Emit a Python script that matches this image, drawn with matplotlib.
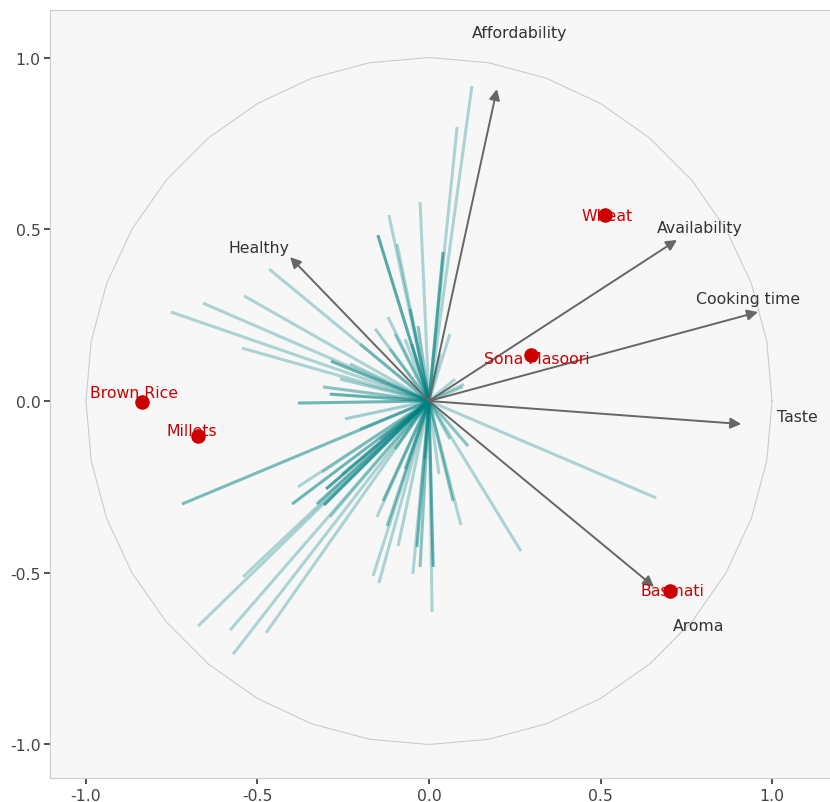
import numpy as np
import matplotlib
matplotlib.use("Agg")
import matplotlib.pyplot as plt

# loadings of the individual responses (end points of the teal rays)
resp_x = [-0.752, -0.659, -0.539, -0.466, -0.545, -0.309, -0.382, -0.289, -0.286, -0.120,
          -0.149, -0.117, -0.026, -0.093, 0.125, 0.082, 0.041, 0.061, -0.055, -0.032,
          0.102, 0.662, 0.268, 0.093, 0.114, 0.009, 0.012, -0.047, -0.026, 0.070,
          -0.035, 0.029, -0.720, -0.673, -0.571, -0.580, -0.475, -0.542, -0.399, -0.382,
          -0.300, -0.327, -0.306, -0.163, -0.146, -0.152, -0.090, -0.122, -0.134, -0.312,
          -0.254, -0.114, -0.070, 0.099, -0.289,
          -0.201, -0.157, -0.099, -0.050, -0.230, -0.259, 0.032, 0.076, -0.099, -0.070,
          -0.143, -0.201, 0.061, -0.012, -0.245]
resp_y = [0.259, 0.285, 0.306, 0.384, 0.154, 0.041, -0.006, 0.020, 0.116, 0.245,
          0.483, 0.541, 0.579, 0.457, 0.917, 0.798, 0.434, 0.195, 0.268, 0.218,
          0.049, -0.282, -0.437, -0.361, -0.131, -0.614, -0.483, -0.504, -0.483, -0.291,
          -0.425, -0.213, -0.300, -0.655, -0.737, -0.667, -0.675, -0.512, -0.300, -0.250,
          -0.256, -0.300, -0.303, -0.509, -0.530, -0.338, -0.422, -0.364, -0.291, -0.207,
          -0.213, 0.151, 0.180, 0.041, -0.338,
          0.166, 0.210, 0.195, 0.166, 0.108, 0.064, 0.137, 0.064, -0.140, -0.198,
          -0.111, -0.082, -0.111, -0.169, -0.052]
resp_alpha = [0.3, 0.3, 0.3, 0.3, 0.3, 0.45, 0.55, 0.6, 0.55, 0.3,
              0.65, 0.3, 0.3, 0.3, 0.3, 0.3, 0.6, 0.3, 0.45, 0.45,
              0.3, 0.3, 0.3, 0.3, 0.45, 0.3, 0.6, 0.3, 0.45, 0.45,
              0.5, 0.3, 0.5, 0.3, 0.3, 0.3, 0.3, 0.3, 0.55, 0.3,
              0.7, 0.55, 0.65, 0.3, 0.3, 0.3, 0.3, 0.45, 0.45, 0.3,
              0.3, 0.3, 0.3, 0.3, 0.3,
              0.35, 0.35, 0.35, 0.4, 0.35, 0.35, 0.35, 0.3, 0.4, 0.4,
              0.4, 0.35, 0.35, 0.4, 0.35]

# variable arrows
var_names = ["Affordability", "Healthy", "Availability", "Cooking time", "Taste", "Aroma"]
var_x = [0.198, -0.405, 0.723, 0.959, 0.910, 0.656]
var_y = [0.908, 0.419, 0.469, 0.259, -0.067, -0.541]
var_lab_x = [0.265, -0.496, 0.790, 0.930, 1.073, 0.787]
var_lab_y = [1.074, 0.448, 0.504, 0.297, -0.044, -0.655]

# grain types
grain_names = ["Wheat", "Sona Masoori", "Brown Rice", "Millets", "Basmati"]
grain_x = [0.513, 0.297, -0.837, -0.673, 0.703]
grain_y = [0.541, 0.134, -0.003, -0.102, -0.553]
grain_lab_x = [0.519, 0.313, -0.859, -0.691, 0.710]
grain_lab_y = [0.541, 0.125, 0.026, -0.087, -0.553]

fig = plt.figure(figsize=(8.3, 8.03), dpi=100)
ax = fig.add_axes([0.0608, 0.0299, 0.9392, 0.9570])
ax.set_facecolor("#f7f7f7")

# unit circle (drawn as a 10 degree polygon)
theta = np.deg2rad(np.arange(0, 361, 10))
ax.plot(np.cos(theta), np.sin(theta), color="#cccccc", lw=0.8, zorder=1)

for x, y, a in zip(resp_x, resp_y, resp_alpha):
    ax.plot([0, x], [0, y], color="#008080", alpha=a, lw=2.2,
            solid_capstyle="butt", zorder=2)

for name, x, y, lx, ly in zip(var_names, var_x, var_y, var_lab_x, var_lab_y):
    ax.annotate("", xy=(x, y), xytext=(0, 0),
                arrowprops=dict(arrowstyle="-|>", color="#666666", lw=1.4,
                                mutation_scale=16, shrinkA=0, shrinkB=0),
                zorder=3)
    ax.text(lx, ly, name, ha="center", va="center", fontsize=11.3,
            color="#333333", zorder=4)

for name, lx, ly in zip(grain_names, grain_lab_x, grain_lab_y):
    ax.text(lx, ly, name, ha="center", va="center", fontsize=11.3,
            color="#cc0000", zorder=4)
ax.scatter(grain_x, grain_y, s=110, color="#cc0000", zorder=5, linewidths=0)

ax.set_xlim(-1.1035, 1.169)
ax.set_ylim(-1.0975, 1.1397)
ticks = [-1.0, -0.5, 0.0, 0.5, 1.0]
ax.set_xticks(ticks)
ax.set_yticks(ticks)
ax.set_xticklabels(["%.1f" % t for t in ticks])
ax.set_yticklabels(["%.1f" % t for t in ticks])
ax.tick_params(length=4, width=1.2, color="#333333", labelcolor="#444444",
               labelsize=11.3, pad=3)
for s in ax.spines.values():
    s.set_color("#cccccc")
    s.set_linewidth(0.8)
ax.spines["right"].set_visible(False)

fig.savefig("out.png", dpi=100, facecolor="white")
